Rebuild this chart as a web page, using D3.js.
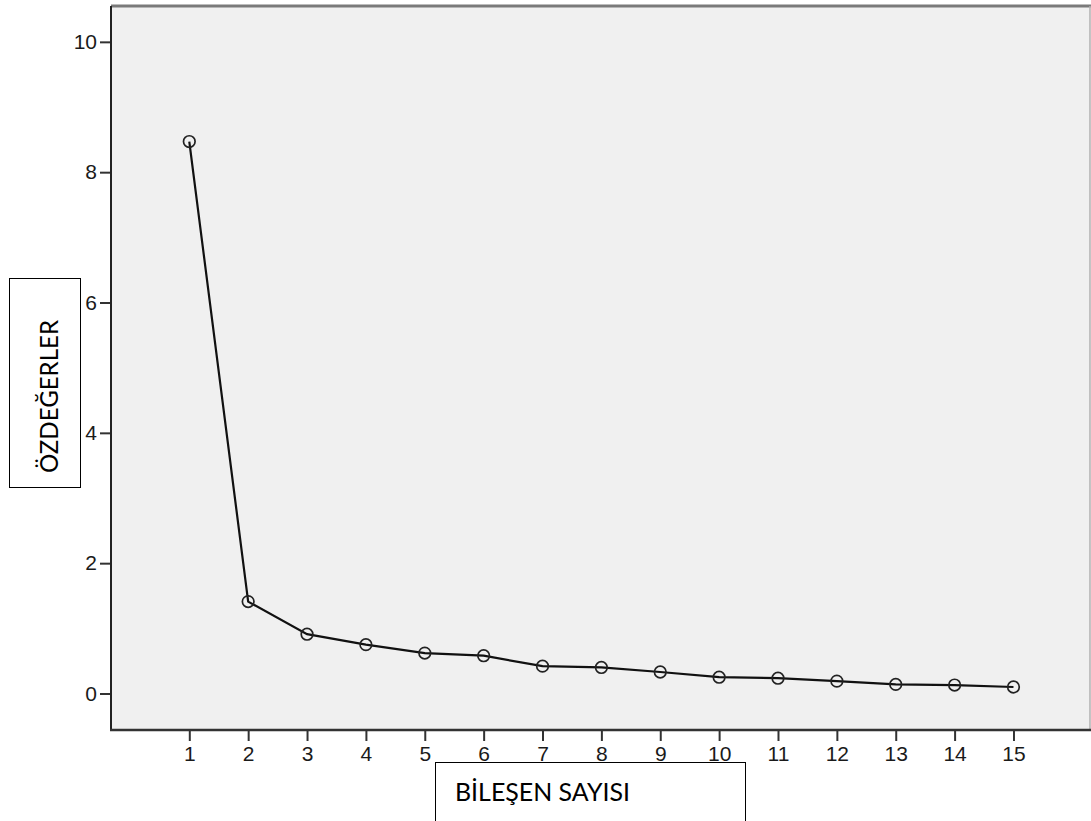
<!DOCTYPE html>
<html>
<head>
<meta charset="utf-8">
<script src="https://cdnjs.cloudflare.com/ajax/libs/d3/7.8.5/d3.min.js"></script>
<style>
  body { margin: 0; background: #fff; }
  svg { display: block; }
</style>
</head>
<body>
<svg id="chart" width="1091" height="821"></svg>
<script>
// scree plot data (component number -> eigenvalue)
const components = [1, 2, 3, 4, 5, 6, 7, 8, 9, 10, 11, 12, 13, 14, 15]
const eigenvalues = [8.47, 1.41, 0.91, 0.75, 0.62, 0.58, 0.42, 0.40, 0.33, 0.25, 0.235, 0.19, 0.14, 0.13, 0.10]
const yTicks = [0, 2, 4, 6, 8, 10]
const xTitle = "BİLEŞEN SAYISI"
const yTitle = "ÖZDEĞERLER"

const plot = { left: 111, right: 1090, top: 6, bottom: 730 }

const svg = d3.select("#chart")

const x = d3.scaleLinear().domain([-0.33, 16.3]).range([plot.left, plot.right])
const y = d3.scaleLinear().domain([-0.56, 10.55]).range([plot.bottom, plot.top])

// plot background
svg.append("rect")
  .attr("x", plot.left).attr("y", plot.top)
  .attr("width", plot.right - plot.left).attr("height", plot.bottom - plot.top)
  .attr("fill", "#f0f0f0")

// top + right frame
svg.append("line")
  .attr("x1", plot.left).attr("x2", plot.right + 1)
  .attr("y1", plot.top).attr("y2", plot.top)
  .attr("stroke", "#7a7a7a").attr("stroke-width", 3)
svg.append("line")
  .attr("x1", plot.right).attr("x2", plot.right)
  .attr("y1", plot.top).attr("y2", plot.bottom)
  .attr("stroke", "#b0b0b0").attr("stroke-width", 1.5)

// axes
const yAxis = d3.axisLeft(y).tickValues(yTicks).tickSize(11).tickPadding(3).tickFormat(d3.format("d"))
const xAxis = d3.axisBottom(x).tickValues(components).tickSize(11).tickPadding(5).tickFormat(d3.format("d"))

const gy = svg.append("g").attr("transform", `translate(${plot.left},0)`).call(yAxis)
const gx = svg.append("g").attr("transform", `translate(0,${plot.bottom})`).call(xAxis)

;[gx, gy].forEach((g) => {
  g.select(".domain").remove()
  g.selectAll(".tick line").attr("stroke", "#333").attr("stroke-width", 2)
  g.selectAll(".tick text")
    .attr("fill", "#1a1a1a")
    .style("font-family", "'Liberation Sans Narrow', 'Liberation Sans', Arial, sans-serif")
    .style("font-size", "21px")
})

svg.append("line")
  .attr("x1", plot.left).attr("x2", plot.left)
  .attr("y1", plot.top).attr("y2", plot.bottom + 1)
  .attr("stroke", "#222").attr("stroke-width", 2)
svg.append("line")
  .attr("x1", plot.left - 1).attr("x2", plot.right + 1)
  .attr("y1", plot.bottom).attr("y2", plot.bottom)
  .attr("stroke", "#333").attr("stroke-width", 2.5)

// line + markers
const pts = components.map((c, i) => ({ c, v: eigenvalues[i] }))

svg.append("path")
  .datum(pts)
  .attr("d", d3.line().x((d) => x(d.c)).y((d) => y(d.v)))
  .attr("fill", "none")
  .attr("stroke", "#111")
  .attr("stroke-width", 2.2)

svg.selectAll("circle.pt")
  .data(pts)
  .join("circle")
  .attr("class", "pt")
  .attr("cx", (d) => x(d.c))
  .attr("cy", (d) => y(d.v))
  .attr("r", 5.8)
  .attr("fill", "none")
  .attr("stroke", "#222")
  .attr("stroke-width", 1.7)

// axis title boxes
svg.append("rect")
  .attr("x", 9.5).attr("y", 278.5).attr("width", 71).attr("height", 209)
  .attr("fill", "#fff").attr("stroke", "#000").attr("stroke-width", 1)
svg.append("text")
  .attr("transform", "translate(58,473) rotate(-90)")
  .attr("textLength", 153)
  .attr("lengthAdjust", "spacingAndGlyphs")
  .style("font-family", "Lato, 'Open Sans', sans-serif")
  .style("font-size", "25px")
  .attr("fill", "#000")
  .text(yTitle)

svg.append("rect")
  .attr("x", 435.5).attr("y", 762.5).attr("width", 310).attr("height", 80)
  .attr("fill", "#fff").attr("stroke", "#000").attr("stroke-width", 1)
svg.append("text")
  .attr("x", 455).attr("y", 800.5)
  .attr("textLength", 175)
  .attr("lengthAdjust", "spacingAndGlyphs")
  .style("font-family", "Lato, 'Open Sans', sans-serif")
  .style("font-size", "25px")
  .attr("fill", "#000")
  .text(xTitle)
</script>
</body>
</html>
